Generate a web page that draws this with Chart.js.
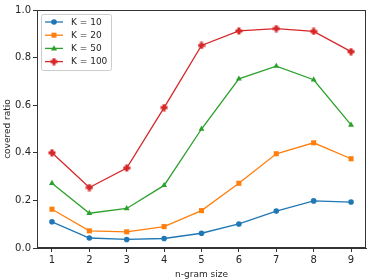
<!DOCTYPE html>
<html>
<head>
<meta charset="utf-8">
<script src="https://cdn.jsdelivr.net/npm/chart.js@4.4.1/dist/chart.umd.min.js"></script>
<style>
html,body{margin:0;padding:0;background:#fff;}
#wrap{width:374px;height:280px;position:relative;}
</style>
</head>
<body>
<div id="wrap"><canvas id="c" width="374" height="280"></canvas></div>
<script>
const ngramSizes = [1, 2, 3, 4, 5, 6, 7, 8, 9];
const k10 = [0.110, 0.042, 0.036, 0.040, 0.062, 0.101, 0.155, 0.198, 0.193];
const k20 = [0.163, 0.072, 0.068, 0.090, 0.157, 0.272, 0.396, 0.442, 0.375];
const k50 = [0.272, 0.146, 0.166, 0.263, 0.500, 0.711, 0.764, 0.707, 0.517];
const k100 = [0.400, 0.254, 0.336, 0.590, 0.851, 0.912, 0.922, 0.910, 0.825];
const seriesLabels = ['K = 10', 'K = 20', 'K = 50', 'K = 100'];
const yTicks = [0.0, 0.2, 0.4, 0.6, 0.8, 1.0];

const colors = ['#1f77b4', '#ff7f0e', '#2ca02c', '#d62728'];
const FONT = '"DejaVu Sans", sans-serif';
const TEXT = '#262626';
const SPINE = '#333333';

function plusCanvas(color) {
  const c = document.createElement('canvas');
  c.width = 8; c.height = 8;
  const g = c.getContext('2d');
  g.fillStyle = color;
  g.fillRect(2.5, 0.5, 3, 7);
  g.fillRect(0.5, 2.5, 7, 3);
  return c;
}
const plusImg = plusCanvas(colors[3]);

const styles = [
  {pointStyle: 'circle', pointRadius: 2.8},
  {pointStyle: 'rect', pointRadius: 3.6},
  {pointStyle: 'triangle', pointRadius: 3.4},
  {pointStyle: plusImg, pointRadius: 4}
];

const seriesValues = [k10, k20, k50, k100];
const datasets = seriesValues.map((vals, i) => ({
  label: seriesLabels[i],
  data: ngramSizes.map((x, j) => ({x: x, y: vals[j]})),
  borderColor: colors[i],
  backgroundColor: colors[i],
  borderWidth: 1.3,
  pointStyle: styles[i].pointStyle,
  pointRadius: styles[i].pointRadius,
  pointBorderWidth: 0,
  pointBackgroundColor: colors[i],
  tension: 0,
  fill: false
}));

function drawMarker(ctx, i, x, y) {
  ctx.save();
  ctx.fillStyle = colors[i];
  if (i === 0) {
    ctx.beginPath(); ctx.arc(x, y, 2.8, 0, Math.PI * 2); ctx.fill();
  } else if (i === 1) {
    ctx.fillRect(x - 2.5, y - 2.5, 5, 5);
  } else if (i === 2) {
    ctx.beginPath();
    ctx.moveTo(x, y - 3.2); ctx.lineTo(x + 3, y + 2.2); ctx.lineTo(x - 3, y + 2.2);
    ctx.closePath(); ctx.fill();
  } else {
    ctx.drawImage(plusImg, x - 4, y - 4);
  }
  ctx.restore();
}

const framePlugin = {
  id: 'frameAndLegend',
  afterDraw(chart) {
    const ctx = chart.ctx;
    const a = chart.chartArea;
    ctx.save();
    ctx.strokeStyle = SPINE;
    ctx.lineWidth = 1;
    ctx.strokeRect(Math.round(a.left) + 0.5, Math.round(a.top) + 0.5,
                   Math.round(a.right - a.left) - 1, Math.round(a.bottom - a.top) - 1);
    // legend
    const lx = a.left + 4, ly = a.top + 4, lw = 70, lh = 56;
    ctx.fillStyle = 'rgba(255,255,255,0.8)';
    ctx.strokeStyle = '#cccccc';
    ctx.lineWidth = 1;
    ctx.beginPath();
    if (ctx.roundRect) ctx.roundRect(lx + 0.5, ly + 0.5, lw, lh, 2); else ctx.rect(lx + 0.5, ly + 0.5, lw, lh);
    ctx.fill(); ctx.stroke();
    ctx.font = '9px ' + FONT;
    ctx.textBaseline = 'middle';
    ctx.textAlign = 'left';
    for (let i = 0; i < seriesLabels.length; i++) {
      const y = ly + 8 + i * 13.2;
      ctx.strokeStyle = colors[i];
      ctx.lineWidth = 1.3;
      ctx.beginPath(); ctx.moveTo(lx + 4, y); ctx.lineTo(lx + 22, y); ctx.stroke();
      drawMarker(ctx, i, lx + 13, y);
      ctx.fillStyle = TEXT;
      ctx.fillText(seriesLabels[i], lx + 30, y + 0.5);
    }
    ctx.restore();
  }
};

new Chart(document.getElementById('c'), {
  type: 'line',
  data: {datasets: datasets},
  options: {
    responsive: false,
    animation: false,
    devicePixelRatio: 1,
    layout: {padding: {left: 0, right: 8, top: 10, bottom: 0}},
    plugins: {legend: {display: false}, tooltip: {enabled: false}},
    scales: {
      x: {
        type: 'linear',
        min: 0.6, max: 9.4,
        afterBuildTicks(s) { s.ticks = ngramSizes.map(v => ({value: v})); },
        afterFit(s) { s.height = 32; },
        grid: {drawOnChartArea: false, drawTicks: true, tickLength: 4, tickColor: SPINE, tickWidth: 1},
        border: {display: true, color: SPINE, width: 1},
        ticks: {font: {family: FONT, size: 10}, color: TEXT, padding: 2, maxRotation: 0,
                callback: v => String(v)},
        title: {display: true, text: 'n-gram size', font: {family: FONT, size: 9}, color: TEXT,
                padding: {top: 0, bottom: 0}}
      },
      y: {
        min: 0, max: 1,
        afterBuildTicks(s) { s.ticks = yTicks.map(v => ({value: v})); },
        afterFit(s) { s.width = 37; },
        grid: {drawOnChartArea: false, drawTicks: true, tickLength: 4, tickColor: SPINE, tickWidth: 1},
        border: {display: true, color: SPINE, width: 1},
        ticks: {font: {family: FONT, size: 10}, color: TEXT, padding: 2,
                callback: v => Number(v).toFixed(1)},
        title: {display: true, text: 'covered ratio', font: {family: FONT, size: 9}, color: TEXT,
                padding: {top: 2, bottom: 0}}
      }
    }
  },
  plugins: [framePlugin]
});
</script>
</body>
</html>
